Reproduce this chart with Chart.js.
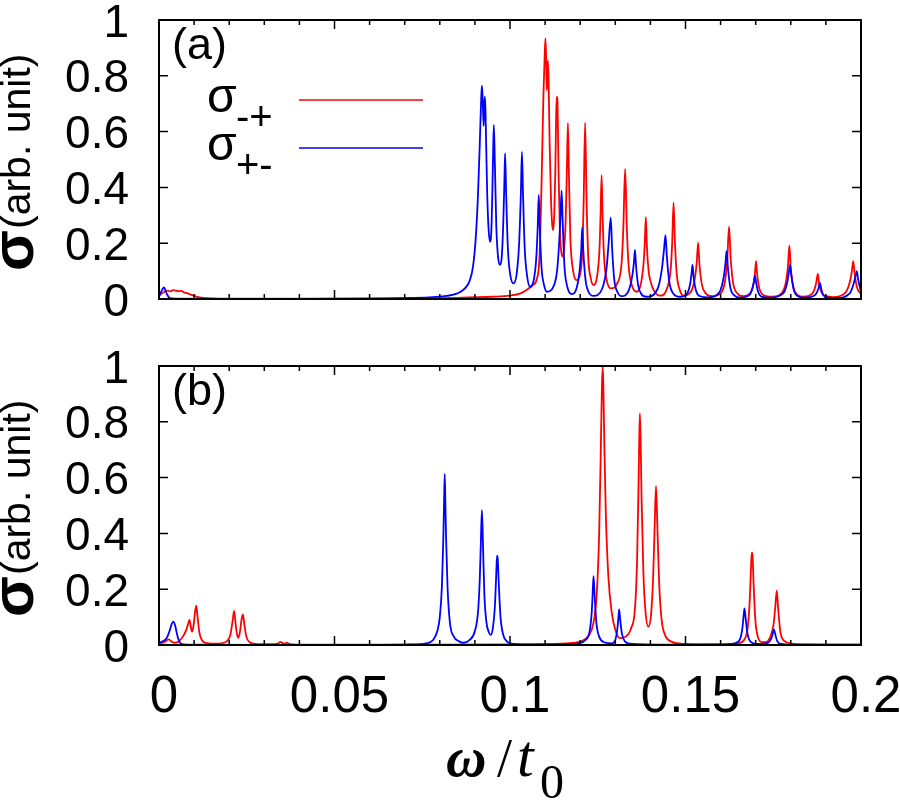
<!DOCTYPE html>
<html>
<head>
<meta charset="utf-8">
<title>sigma spectra</title>
<script src="https://cdn.jsdelivr.net/npm/chart.js@4.4.1/dist/chart.umd.min.js"></script>
<style>
  html, body { margin: 0; padding: 0; background: #fff; overflow: hidden; }
  #wrap { position: relative; width: 900px; height: 801px; }
  .panel { position: absolute; left: 0; width: 900px; }
</style>
</head>
<body>
<div id="wrap">
  <div class="panel" style="top:0;height:320px"><canvas id="chartA"></canvas></div>
  <div class="panel" style="top:346px;height:455px"><canvas id="chartB"></canvas></div>
</div>
<script>
// Axis ticks
const xTickValues = [0, 0.05, 0.1, 0.15, 0.2];
const xTickLabels = ['0', '0.05', '0.1', '0.15', '0.2'];
const yTickValues = [0, 0.2, 0.4, 0.6, 0.8, 1];
const yTickLabels = ['0', '0.2', '0.4', '0.6', '0.8', '1'];
const xMinorStep = 0.01;

// Panel (a): [omega / t0, sigma]
const aRed = [
  [0,0.010],[0.0008,0.020],[0.0016,0.026],[0.0024,0.030],[0.0032,0.027],[0.0040,0.032],[0.0048,0.030],
  [0.0056,0.028],[0.0064,0.029],[0.0072,0.023],[0.0080,0.021],[0.0088,0.017],[0.0096,0.013],[0.0108,0.008],
  [0.0125,0.004],[0.0150,0.002],[0.0200,0.001],[0.0400,0.0005],[0.0600,0.001],[0.0750,0.002],[0.0850,0.004],
  [0.0950,0.008],[0.1000,0.012],[0.1030,0.020],[0.1050,0.035],[0.1065,0.050],[0.1076,0.070],[0.1084,0.150],
  [0.1090,0.420],[0.1095,0.720],[0.1099,0.880],[0.1101,0.934],[0.1103,0.860],[0.1105,0.749],[0.1106,0.790],
  [0.1108,0.854],[0.1110,0.780],[0.1113,0.550],[0.1117,0.350],[0.1120,0.270],[0.1123,0.247],[0.1126,0.300],
  [0.1129,0.450],[0.1131,0.620],[0.1133,0.725],[0.1135,0.715],[0.1138,0.480],[0.1142,0.250],[0.1146,0.170],
  [0.1150,0.152],[0.1155,0.190],[0.1159,0.300],[0.1162,0.460],[0.1165,0.630],[0.1168,0.440],[0.1172,0.220],
  [0.1180,0.100],[0.1190,0.068],[0.1200,0.090],[0.1206,0.170],[0.1210,0.360],[0.1214,0.632],[0.1218,0.360],
  [0.1223,0.150],[0.1230,0.075],[0.1238,0.050],[0.1248,0.080],[0.1255,0.180],[0.1258,0.300],[0.1261,0.444],
  [0.1264,0.290],[0.1268,0.150],[0.1276,0.065],[0.1289,0.038],[0.1305,0.055],[0.1318,0.130],[0.1323,0.260],
  [0.1328,0.466],[0.1333,0.250],[0.1338,0.120],[0.1347,0.050],[0.1361,0.026],[0.1372,0.050],[0.1380,0.120],
  [0.1384,0.200],[0.1387,0.293],[0.1390,0.190],[0.1395,0.100],[0.1400,0.065],[0.1410,0.030],[0.1427,0.012],
  [0.1448,0.040],[0.1458,0.110],[0.1462,0.200],[0.1466,0.345],[0.1470,0.200],[0.1475,0.090],[0.1483,0.035],
  [0.1494,0.012],[0.1515,0.025],[0.1526,0.070],[0.1532,0.130],[0.1536,0.202],[0.1540,0.120],[0.1547,0.050],
  [0.1558,0.020],[0.1575,0.010],[0.1600,0.020],[0.1612,0.060],[0.1619,0.140],[0.1624,0.259],[0.1629,0.140],
  [0.1636,0.055],[0.1648,0.020],[0.1664,0.010],[0.1685,0.022],[0.1694,0.055],[0.1698,0.095],[0.1701,0.136],
  [0.1704,0.090],[0.1710,0.040],[0.1722,0.014],[0.1748,0.008],[0.1775,0.022],[0.1786,0.060],[0.1792,0.120],
  [0.1796,0.191],[0.1800,0.110],[0.1807,0.045],[0.1818,0.016],[0.1836,0.008],[0.1860,0.018],[0.1870,0.045],
  [0.1874,0.070],[0.1877,0.090],[0.1880,0.060],[0.1887,0.025],[0.1900,0.010],[0.1921,0.007],[0.1955,0.022],
  [0.1968,0.060],[0.1974,0.100],[0.1978,0.136],[0.1982,0.090],[0.1989,0.040],[0.2000,0.018]
];
const aBlue = [
  [0,0.012],[0.0006,0.025],[0.0010,0.036],[0.0014,0.042],[0.0018,0.032],[0.0023,0.016],[0.0031,0.003],
  [0.0045,0.001],[0.0200,0.0005],[0.0500,0.001],[0.0650,0.002],[0.0720,0.004],[0.0780,0.007],[0.0820,0.011],
  [0.0850,0.020],[0.0870,0.036],[0.0885,0.065],[0.0895,0.120],[0.0903,0.230],[0.0909,0.380],[0.0914,0.560],
  [0.0918,0.720],[0.0920,0.765],[0.0922,0.720],[0.0925,0.620],[0.0927,0.700],[0.0929,0.725],[0.0932,0.560],
  [0.0935,0.380],[0.0939,0.250],[0.0943,0.205],[0.0947,0.250],[0.0950,0.400],[0.0952,0.530],[0.0954,0.624],
  [0.0957,0.480],[0.0961,0.260],[0.0966,0.150],[0.0972,0.122],[0.0977,0.160],[0.0981,0.280],[0.0984,0.420],
  [0.0986,0.522],[0.0989,0.380],[0.0994,0.180],[0.1001,0.085],[0.1010,0.056],[0.1019,0.090],[0.1026,0.200],
  [0.1031,0.380],[0.1034,0.527],[0.1037,0.380],[0.1042,0.180],[0.1049,0.080],[0.1057,0.044],[0.1068,0.070],
  [0.1075,0.150],[0.1079,0.260],[0.1082,0.373],[0.1085,0.250],[0.1090,0.110],[0.1097,0.050],[0.1105,0.026],
  [0.1122,0.040],[0.1134,0.100],[0.1140,0.200],[0.1144,0.300],[0.1147,0.388],[0.1150,0.280],[0.1155,0.120],
  [0.1163,0.045],[0.1176,0.018],[0.1190,0.040],[0.1199,0.110],[0.1203,0.180],[0.1206,0.257],[0.1209,0.170],
  [0.1215,0.070],[0.1224,0.025],[0.1238,0.011],[0.1262,0.035],[0.1275,0.110],[0.1281,0.200],[0.1287,0.292],
  [0.1291,0.180],[0.1297,0.070],[0.1306,0.025],[0.1318,0.010],[0.1338,0.030],[0.1348,0.080],[0.1353,0.130],
  [0.1356,0.176],[0.1359,0.120],[0.1365,0.050],[0.1374,0.018],[0.1389,0.008],[0.1420,0.035],[0.1433,0.110],
  [0.1439,0.180],[0.1443,0.229],[0.1447,0.150],[0.1454,0.060],[0.1465,0.020],[0.1484,0.008],[0.1505,0.020],
  [0.1514,0.060],[0.1518,0.100],[0.1520,0.122],[0.1523,0.080],[0.1530,0.030],[0.1542,0.010],[0.1565,0.006],
  [0.1597,0.025],[0.1609,0.080],[0.1614,0.130],[0.1617,0.172],[0.1621,0.110],[0.1628,0.040],[0.1640,0.012],
  [0.1655,0.005],[0.1683,0.016],[0.1692,0.045],[0.1696,0.070],[0.1698,0.084],[0.1701,0.060],[0.1707,0.025],
  [0.1718,0.008],[0.1741,0.005],[0.1778,0.020],[0.1790,0.060],[0.1795,0.100],[0.1798,0.122],[0.1801,0.090],
  [0.1808,0.035],[0.1820,0.010],[0.1840,0.005],[0.1870,0.015],[0.1878,0.035],[0.1881,0.050],[0.1883,0.058],
  [0.1886,0.040],[0.1892,0.015],[0.1905,0.005],[0.1931,0.004],[0.1968,0.020],[0.1979,0.055],[0.1985,0.085],
  [0.1988,0.100],[0.1992,0.070],[0.2000,0.025]
];

// Panel (b)
const bRed = [
  [0,0.005],[0.0015,0.010],[0.0028,0.020],[0.0036,0.012],[0.0043,0.008],[0.0055,0.012],[0.0068,0.030],
  [0.0078,0.055],[0.0084,0.080],[0.0087,0.090],[0.0090,0.070],[0.0094,0.048],[0.0098,0.065],[0.0102,0.110],
  [0.0106,0.141],[0.0110,0.100],[0.0115,0.045],[0.0122,0.018],[0.0135,0.007],[0.0170,0.005],[0.0192,0.012],
  [0.0203,0.035],[0.0209,0.080],[0.0214,0.122],[0.0218,0.080],[0.0222,0.040],[0.0226,0.026],[0.0231,0.050],
  [0.0235,0.090],[0.0239,0.110],[0.0243,0.075],[0.0249,0.030],[0.0258,0.010],[0.0280,0.003],[0.0330,0.003],
  [0.0340,0.006],[0.0346,0.011],[0.0352,0.007],[0.0358,0.005],[0.0364,0.008],[0.0370,0.004],[0.0400,0.001],
  [0.0800,0.001],[0.1000,0.002],[0.1100,0.003],[0.1160,0.006],[0.1200,0.012],[0.1225,0.035],[0.1237,0.075],
  [0.1247,0.180],[0.1254,0.400],[0.1259,0.720],[0.1262,0.930],[0.1264,0.998],[0.1266,0.930],[0.1269,0.700],
  [0.1273,0.470],[0.1280,0.250],[0.1290,0.115],[0.1300,0.055],[0.1313,0.025],[0.1330,0.030],[0.1345,0.060],
  [0.1356,0.130],[0.1362,0.300],[0.1366,0.560],[0.1368,0.720],[0.1370,0.830],[0.1372,0.740],[0.1375,0.520],
  [0.1380,0.260],[0.1386,0.120],[0.1394,0.066],[0.1402,0.110],[0.1408,0.250],[0.1412,0.420],[0.1416,0.570],
  [0.1420,0.420],[0.1425,0.220],[0.1432,0.090],[0.1442,0.035],[0.1460,0.012],[0.1494,0.004],[0.1600,0.002],
  [0.1650,0.006],[0.1668,0.020],[0.1677,0.060],[0.1683,0.160],[0.1687,0.290],[0.1689,0.331],[0.1691,0.320],
  [0.1694,0.220],[0.1699,0.090],[0.1706,0.030],[0.1718,0.010],[0.1728,0.010],[0.1742,0.030],[0.1751,0.075],
  [0.1756,0.140],[0.1760,0.195],[0.1764,0.130],[0.1770,0.050],[0.1780,0.016],[0.1800,0.006],[0.1850,0.002],
  [0.2000,0.001]
];
const bBlue = [
  [0,0.008],[0.0012,0.014],[0.0022,0.025],[0.0030,0.050],[0.0036,0.075],[0.0041,0.084],[0.0046,0.070],
  [0.0052,0.035],[0.0058,0.012],[0.0065,0.003],[0.0080,0.001],[0.0300,0.0003],[0.0600,0.0005],[0.0720,0.002],
  [0.0760,0.006],[0.0781,0.018],[0.0793,0.050],[0.0800,0.100],[0.0806,0.210],[0.0810,0.380],[0.0812,0.500],
  [0.0814,0.613],[0.0816,0.500],[0.0818,0.380],[0.0822,0.210],[0.0829,0.078],[0.0840,0.030],[0.0855,0.013],
  [0.0867,0.008],[0.0885,0.018],[0.0900,0.050],[0.0909,0.120],[0.0914,0.240],[0.0917,0.370],[0.0920,0.483],
  [0.0923,0.360],[0.0927,0.180],[0.0933,0.080],[0.0940,0.045],[0.0945,0.036],[0.0951,0.060],[0.0957,0.140],
  [0.0961,0.260],[0.0963,0.320],[0.0965,0.310],[0.0968,0.220],[0.0973,0.100],[0.0981,0.035],[0.0992,0.012],
  [0.1000,0.006],[0.1050,0.002],[0.1150,0.002],[0.1195,0.006],[0.1215,0.018],[0.1227,0.050],[0.1233,0.120],
  [0.1236,0.200],[0.1238,0.247],[0.1241,0.180],[0.1246,0.080],[0.1254,0.030],[0.1268,0.010],[0.1290,0.006],
  [0.1300,0.018],[0.1306,0.060],[0.1309,0.100],[0.1311,0.128],[0.1314,0.090],[0.1319,0.040],[0.1328,0.012],
  [0.1340,0.005],[0.1450,0.001],[0.1600,0.002],[0.1640,0.006],[0.1655,0.020],[0.1662,0.060],[0.1666,0.110],
  [0.1668,0.131],[0.1671,0.100],[0.1676,0.045],[0.1685,0.012],[0.1703,0.004],[0.1735,0.008],[0.1745,0.025],
  [0.1750,0.048],[0.1752,0.056],[0.1755,0.042],[0.1761,0.015],[0.1772,0.004],[0.1800,0.001],[0.2000,0.001]
];

const RED = '#ff0000';
const BLUE = '#0000ff';
const SANS = '"Liberation Sans", Arial, sans-serif';
const SERIF = '"Liberation Serif", "Times New Roman", serif';

const toPoints = arr => arr.map(([x, y]) => ({ x, y }));

// gnuplot-like frame, inward ticks and all the text
const gnuplotFrame = {
  id: 'gnuplotFrame',
  afterDraw(chart, args, opts) {
    const { ctx, chartArea: a, scales: { x, y } } = chart;
    ctx.save();

    // ticks
    ctx.strokeStyle = '#000';
    ctx.lineWidth = 1.5;
    ctx.beginPath();
    for (let i = 0; i <= 20; i++) {
      const px = x.getPixelForValue(i * xMinorStep);
      const len = i % 5 === 0 ? 9 : 5;
      ctx.moveTo(px, a.bottom); ctx.lineTo(px, a.bottom - len);
      ctx.moveTo(px, a.top); ctx.lineTo(px, a.top + len);
    }
    yTickValues.forEach(v => {
      const py = y.getPixelForValue(v);
      ctx.moveTo(a.left, py); ctx.lineTo(a.left + 9, py);
      ctx.moveTo(a.right, py); ctx.lineTo(a.right - 9, py);
    });
    ctx.stroke();
    ctx.lineWidth = 2;
    ctx.strokeRect(a.left, a.top, a.right - a.left, a.bottom - a.top);

    // y tick labels
    ctx.fillStyle = '#000';
    ctx.textBaseline = 'alphabetic';
    ctx.textAlign = 'right';
    ctx.font = '46px ' + SANS;
    yTickValues.forEach((v, i) => {
      ctx.fillText(yTickLabels[i], a.left - 30, y.getPixelForValue(v) + 16.5);
    });

    // panel letter
    ctx.textAlign = 'left';
    ctx.font = '45px ' + SANS;
    ctx.fillText(opts.letter, a.left + 13, a.top + 39);

    // rotated y title: sigma (arb. unit)
    ctx.save();
    ctx.translate(33, a.bottom - 28);
    ctx.rotate(-Math.PI / 2);
    ctx.font = 'bold 60px ' + SANS;
    ctx.fillText('σ', 0, 0);
    ctx.font = '41px ' + SANS;
    ctx.fillText('(arb. unit)', 42, -3);
    ctx.restore();

    // legend
    if (opts.legend) {
      opts.legend.forEach((item, k) => {
        const base = a.top + 92 + k * 48;
        ctx.fillStyle = '#000';
        ctx.font = '48px ' + SANS;
        ctx.fillText('σ', a.left + 48, base);
        ctx.font = '40px ' + SANS;
        ctx.fillText(item.sub, a.left + 77, base + 18);
        ctx.strokeStyle = item.color;
        ctx.lineWidth = 1.6;
        ctx.beginPath();
        ctx.moveTo(a.left + 140, base - 12);
        ctx.lineTo(a.left + 264, base - 12);
        ctx.stroke();
      });
    }

    // x tick labels and x title (bottom panel only)
    if (opts.xLabels) {
      ctx.fillStyle = '#000';
      ctx.textAlign = 'center';
      ctx.font = '51px ' + SANS;
      xTickValues.forEach((v, i) => {
        ctx.fillText(xTickLabels[i], x.getPixelForValue(v) + 5, a.bottom + 67);
      });
      const tb = a.bottom + 131;
      ctx.textAlign = 'left';
      ctx.font = 'italic bold 56px ' + SERIF;
      ctx.fillText('ω', 446, tb);
      ctx.font = '54px ' + SERIF;
      ctx.fillText('/', 497, tb);
      ctx.font = 'italic 60px ' + SERIF;
      ctx.fillText('t', 517, tb);
      ctx.font = '48px ' + SERIF;
      ctx.fillText('0', 540, tb + 22);
    }
    ctx.restore();
  }
};

function makeChart(id, red, blue, extra) {
  return new Chart(document.getElementById(id), {
    type: 'line',
    data: {
      datasets: [{
        label: 'σ+-',
        data: toPoints(blue),
        borderColor: BLUE
      }, {
        label: 'σ-+',
        data: toPoints(red),
        borderColor: RED
      }]
    },
    options: {
      responsive: true,
      maintainAspectRatio: false,
      animation: false,
      layout: { padding: { top: 20, right: 39, left: 0, bottom: 0 } },
      elements: {
        point: { radius: 0 },
        line: { borderWidth: 1.8, fill: false, cubicInterpolationMode: 'monotone' }
      },
      plugins: {
        legend: { display: false },
        tooltip: { enabled: false },
        gnuplotFrame: extra
      },
      scales: {
        x: {
          type: 'linear', min: 0, max: 0.2,
          ticks: { display: false },
          grid: { display: false, drawTicks: false },
          border: { display: false },
          afterFit: s => { s.height = extra.xAxisHeight; }
        },
        y: {
          min: 0, max: 1,
          ticks: { display: false },
          grid: { display: false, drawTicks: false },
          border: { display: false },
          afterFit: s => { s.width = 159; }
        }
      }
    },
    plugins: [gnuplotFrame]
  });
}

makeChart('chartA', aRed, aBlue, {
  letter: '(a)',
  xAxisHeight: 21,
  legend: [{ sub: '-+', color: RED }, { sub: '+-', color: BLUE }]
});
makeChart('chartB', bRed, bBlue, {
  letter: '(b)',
  xAxisHeight: 156,
  xLabels: true
});
</script>
</body>
</html>
